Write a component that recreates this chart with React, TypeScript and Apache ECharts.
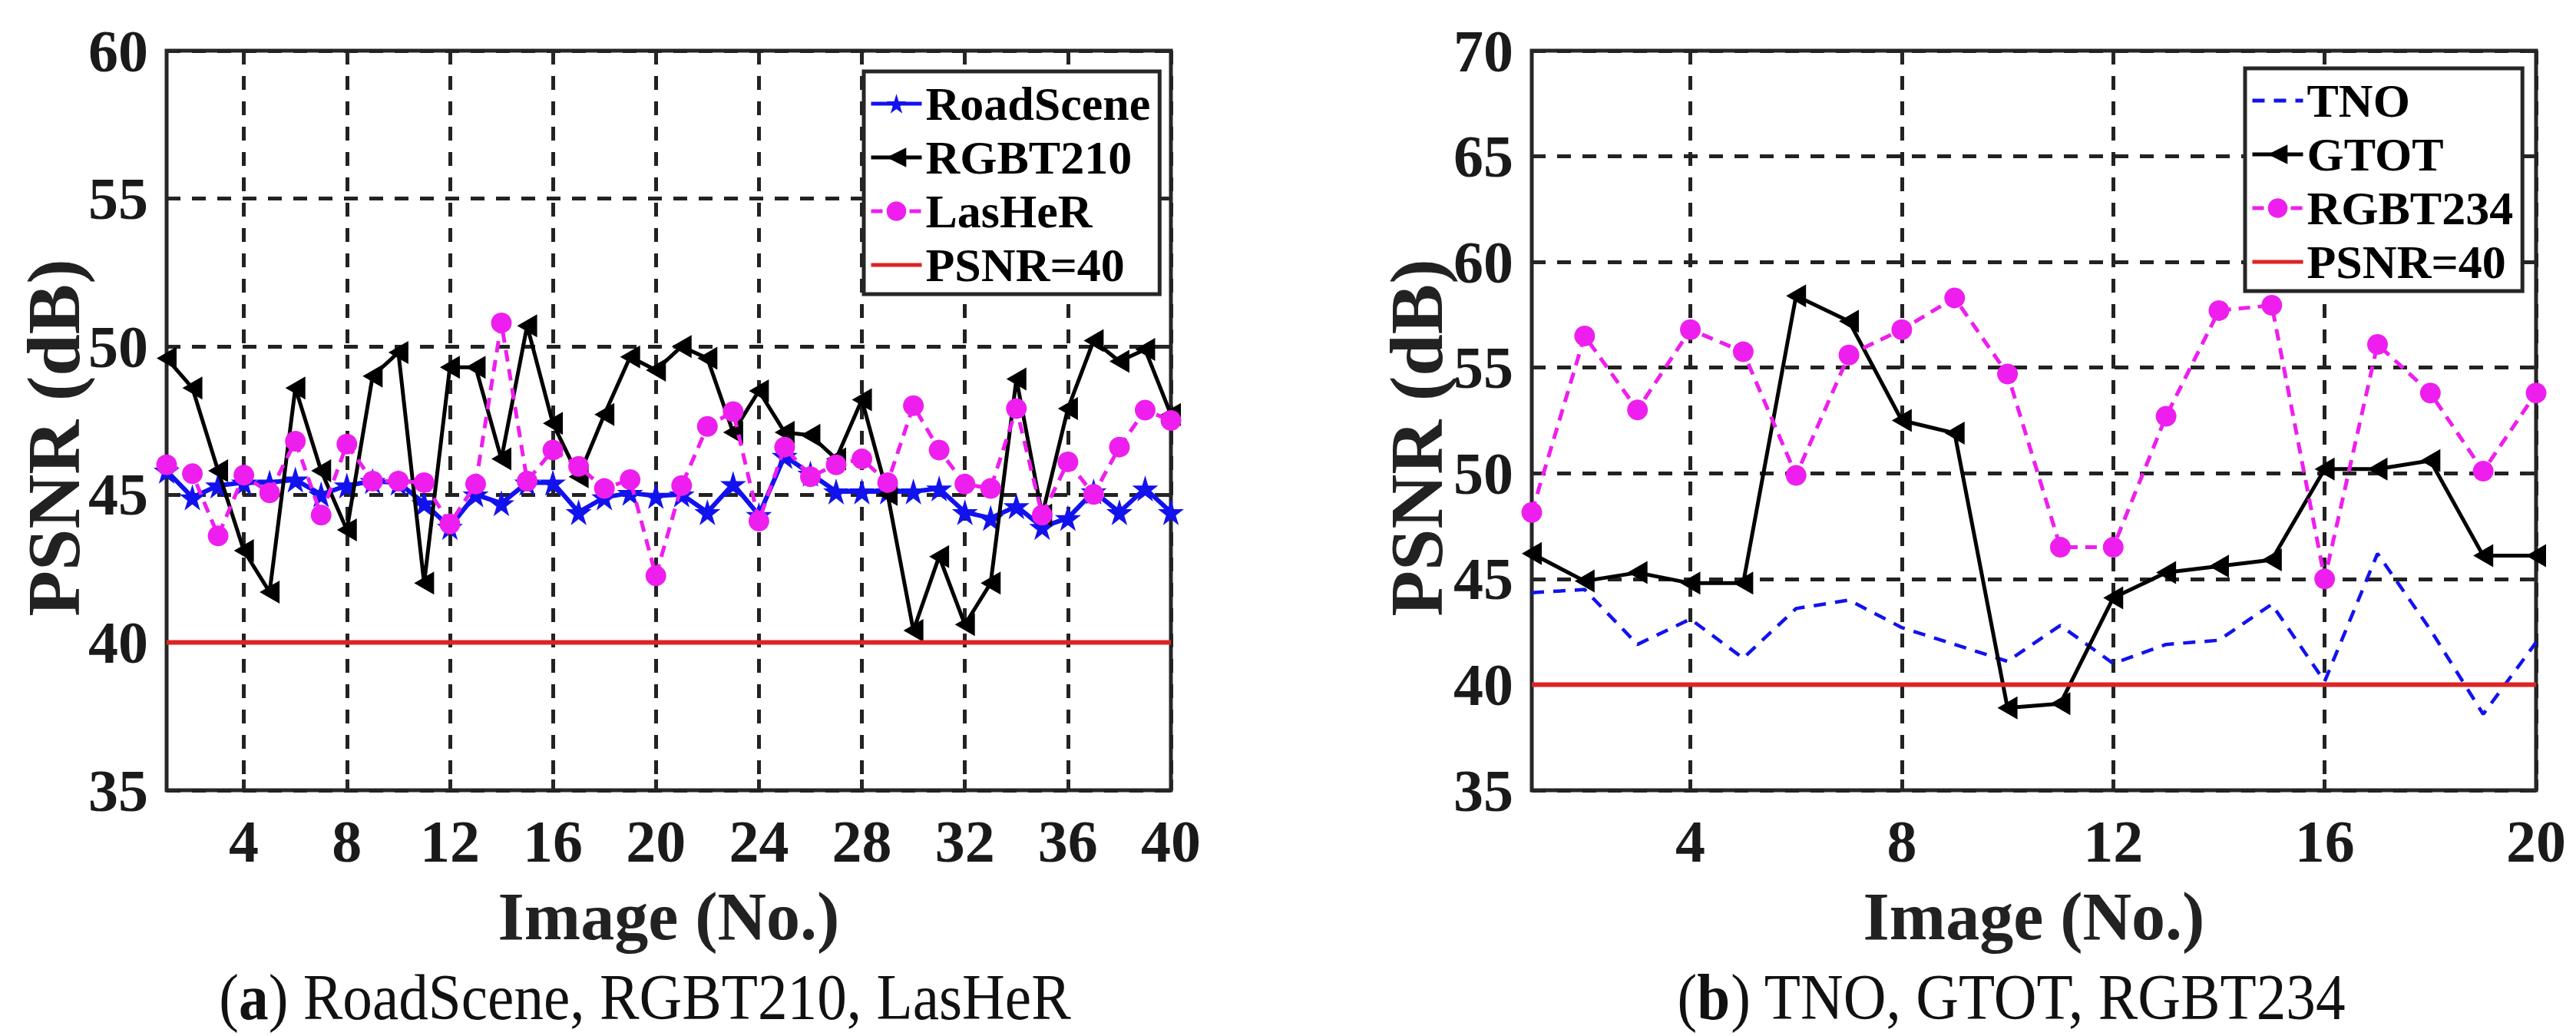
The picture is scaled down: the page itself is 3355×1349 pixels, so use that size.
import React, { useEffect, useRef } from "react";
import * as echarts from "echarts";

// ---------- data ----------
const imagesA = [1,2,3,4,5,6,7,8,9,10,11,12,13,14,15,16,17,18,19,20,21,22,23,24,25,26,27,28,29,30,31,32,33,34,35,36,37,38,39,40];
const roadScene = [45.8,44.9,45.3,45.4,45.4,45.5,45.0,45.3,45.45,45.4,44.7,43.9,45.0,44.7,45.4,45.4,44.4,44.9,45.05,44.95,45.0,44.4,45.35,44.3,46.3,45.7,45.1,45.1,45.1,45.1,45.2,44.4,44.2,44.6,43.9,44.2,45.1,44.4,45.2,44.4];
const rgbt210 = [49.6,48.6,45.8,43.1,41.7,48.6,45.8,43.8,49.0,49.8,42.0,49.3,49.3,46.2,50.7,47.4,45.6,47.7,49.65,49.2,50.0,49.6,47.1,48.5,47.1,47.0,46.2,48.2,45.0,40.4,42.9,40.6,42.0,48.9,44.3,47.9,50.2,49.5,49.9,47.7];
const lasHeR = [46.0,45.7,43.6,45.65,45.05,46.8,44.3,46.7,45.45,45.45,45.4,44.0,45.35,50.8,45.45,46.5,45.95,45.2,45.5,42.25,45.3,47.3,47.8,44.1,46.6,45.6,46.0,46.2,45.4,48.0,46.5,45.35,45.2,47.9,44.3,46.1,45.0,46.6,47.85,47.5];

const imagesB = [1,2,3,4,5,6,7,8,9,10,11,12,13,14,15,16,17,18,19,20];
const tno = [44.35,44.5,41.9,43.1,41.25,43.6,44.0,42.7,41.9,41.1,42.8,41.0,41.9,42.1,43.8,40.15,46.2,42.6,38.6,42.0];
const gtot = [46.2,44.9,45.3,44.8,44.8,58.4,57.2,52.5,51.9,38.9,39.1,44.1,45.3,45.6,45.9,50.2,50.2,50.6,46.1,46.1];
const rgbt234 = [48.15,56.5,53.0,56.8,55.75,49.9,55.6,56.8,58.3,54.7,46.5,46.5,52.7,57.7,57.95,45.0,56.1,53.8,50.1,53.8];

const thresholdValue = 40;
const xTicksA = [4,8,12,16,20,24,28,32,36,40];
const xTicksB = [4,8,12,16,20];
const xRangeA = [1, 40];
const xRangeB = [1, 20];
const yRangeA = [35, 60];
const yRangeB = [35, 70];
const yStep = 5;

const legendNamesA = ["RoadScene", "RGBT210", "LasHeR", "PSNR=40"];
const legendNamesB = ["TNO", "GTOT", "RGBT234", "PSNR=40"];
const captionA = "({b|a}) RoadScene, RGBT210, LasHeR";
const captionB = "({b|b}) TNO, GTOT, RGBT234";
const xTitle = "Image (No.)";
const yTitle = "PSNR (dB)";

// ---------- styles ----------
const FONT = "Liberation Serif";
const BLUE = "#1212ee";
const BLACK = "#000000";
const MAGENTA = "#ee1eee";
const RED = "#dd2424";
const FRAME = "#262626";
const GRID = "#222222";

const STAR = "path://M50,0 L61,35 L98,35 L68,57 L79,91 L50,70 L21,91 L32,57 L2,35 L39,35 Z";
const LTRI = "path://M0,50 L100,0 L100,100 Z";

const pairs = (xs: number[], ys: number[]) => xs.map((x, i) => [x, ys[i]]);

function xAxisPair(gridIndex: number, range: number[], ticks: number[]) {
  const tickStyle = { color: FRAME, width: 5 };
  return [
    {
      type: "value", gridIndex, position: "bottom", min: range[0], max: range[1],
      axisLine: { show: false },
      axisTick: { show: true, inside: true, length: 14, customValues: ticks, lineStyle: tickStyle },
      axisLabel: {
        show: true, customValues: ticks, margin: 27, color: "#1a1a1a",
        fontFamily: FONT, fontWeight: "bold", fontSize: 78, lineHeight: 78, verticalAlign: "top",
      },
      splitLine: { show: true, lineStyle: { color: GRID, width: 5, type: [18, 15] } },
    },
    {
      type: "value", gridIndex, position: "top", min: range[0], max: range[1],
      axisLine: { show: false },
      axisTick: { show: true, inside: true, length: 14, customValues: ticks, lineStyle: tickStyle },
      axisLabel: { show: false },
      splitLine: { show: false },
    },
  ];
}

function yAxisPair(gridIndex: number, range: number[]) {
  const tickStyle = { color: FRAME, width: 5 };
  return [
    {
      type: "value", gridIndex, position: "left", min: range[0], max: range[1], interval: yStep,
      axisLine: { show: false },
      axisTick: { show: true, inside: true, length: 14, lineStyle: tickStyle },
      axisLabel: {
        show: true, margin: 24, color: "#1a1a1a",
        fontFamily: FONT, fontWeight: "bold", fontSize: 78,
      },
      splitLine: { show: true, lineStyle: { color: GRID, width: 5, type: [18, 15] } },
    },
    {
      type: "value", gridIndex, position: "right", min: range[0], max: range[1], interval: yStep,
      axisLine: { show: false },
      axisTick: { show: true, inside: true, length: 14, lineStyle: tickStyle },
      axisLabel: { show: false },
      splitLine: { show: false },
    },
  ];
}

function legendFor(names: string[], left: number, top: number, hideIcon: string[]) {
  return {
    show: true,
    orient: "vertical",
    left, top,
    selectedMode: false,
    backgroundColor: "#ffffff",
    borderColor: FRAME,
    borderWidth: 5,
    borderRadius: 0,
    padding: [7, 12, 3, 7],
    itemGap: 0,
    itemWidth: 66,
    itemHeight: 32,
    lineStyle: { width: 5 },
    data: names.map((n) => (hideIcon.indexOf(n) >= 0 ? { name: n, itemStyle: { opacity: 0 } } : { name: n })),
    textStyle: { color: "#000", fontFamily: FONT, fontWeight: "bold", fontSize: 62, lineHeight: 70 },
    z: 20,
  };
}

export default function App() {
  const ref = useRef<HTMLDivElement>(null);

  useEffect(() => {
    document.body.style.margin = "0";
    if (!ref.current) return;
    const chart = echarts.init(ref.current, null, { renderer: "svg" });

    const gridCommon = {
      show: true, borderColor: FRAME, borderWidth: 5, backgroundColor: "#ffffff",
      containLabel: false, outerBoundsMode: "none",
    };

    const option: any = {
      animation: false,
      backgroundColor: "#ffffff",
      grid: [
        { ...gridCommon, left: 217, top: 66, width: 1308, height: 963 },
        { ...gridCommon, left: 1995, top: 66, width: 1308, height: 963 },
      ],
      xAxis: [...xAxisPair(0, xRangeA, xTicksA), ...xAxisPair(1, xRangeB, xTicksB)],
      yAxis: [...yAxisPair(0, yRangeA), ...yAxisPair(1, yRangeB)],
      legend: [
        legendFor(legendNamesA, 1125, 93, ["PSNR=40"]),
        legendFor(legendNamesB, 2924, 89, ["TNO", "PSNR=40"]),
      ],
      series: [
        {
          name: "RoadScene", type: "line", xAxisIndex: 0, yAxisIndex: 0,
          data: pairs(imagesA, roadScene),
          symbol: STAR, symbolSize: 34, showSymbol: true,
          lineStyle: { color: BLUE, width: 6 }, itemStyle: { color: BLUE },
          z: 3,
        },
        {
          name: "RGBT210", type: "line", xAxisIndex: 0, yAxisIndex: 0,
          data: pairs(imagesA, rgbt210),
          symbol: LTRI, symbolSize: [26, 30], showSymbol: true,
          lineStyle: { color: BLACK, width: 5 }, itemStyle: { color: BLACK },
          z: 4,
        },
        {
          name: "LasHeR", type: "line", xAxisIndex: 0, yAxisIndex: 0,
          data: pairs(imagesA, lasHeR),
          symbol: "circle", symbolSize: 27, showSymbol: true,
          lineStyle: { color: MAGENTA, width: 5, type: [15, 10] }, itemStyle: { color: MAGENTA },
          z: 5,
        },
        {
          name: "PSNR=40", type: "line", xAxisIndex: 0, yAxisIndex: 0,
          data: [[xRangeA[0], thresholdValue], [xRangeA[1], thresholdValue]],
          symbol: "none", showSymbol: false,
          lineStyle: { color: RED, width: 6 }, itemStyle: { color: RED },
          z: 6,
        },
        {
          name: "TNO", type: "line", xAxisIndex: 2, yAxisIndex: 2,
          data: pairs(imagesB, tno),
          symbol: "none", showSymbol: false,
          lineStyle: { color: BLUE, width: 4.5, type: [16, 12] }, itemStyle: { color: BLUE },
          z: 3,
        },
        {
          name: "GTOT", type: "line", xAxisIndex: 2, yAxisIndex: 2,
          data: pairs(imagesB, gtot),
          symbol: LTRI, symbolSize: [26, 30], showSymbol: true,
          lineStyle: { color: BLACK, width: 5 }, itemStyle: { color: BLACK },
          z: 4,
        },
        {
          name: "RGBT234", type: "line", xAxisIndex: 2, yAxisIndex: 2,
          data: pairs(imagesB, rgbt234),
          symbol: "circle", symbolSize: 27, showSymbol: true,
          lineStyle: { color: MAGENTA, width: 5, type: [15, 10] }, itemStyle: { color: MAGENTA },
          z: 5,
        },
        {
          name: "PSNR=40", type: "line", xAxisIndex: 2, yAxisIndex: 2,
          data: [[xRangeB[0], thresholdValue], [xRangeB[1], thresholdValue]],
          symbol: "none", showSymbol: false,
          lineStyle: { color: RED, width: 6 }, itemStyle: { color: RED },
          z: 6,
        },
      ],
      graphic: [
        {
          type: "text", x: 871, y: 1193, silent: true,
          style: { text: xTitle, fontFamily: FONT, fontWeight: "bold", fontSize: 88, fill: "#222",
            align: "center", verticalAlign: "middle", textAlign: "center", textVerticalAlign: "middle" },
        },
        {
          type: "text", x: 2649, y: 1193, silent: true,
          style: { text: xTitle, fontFamily: FONT, fontWeight: "bold", fontSize: 88, fill: "#222",
            align: "center", verticalAlign: "middle", textAlign: "center", textVerticalAlign: "middle" },
        },
        {
          type: "text", x: 70, y: 570, rotation: Math.PI / 2, silent: true,
          style: { text: yTitle, fontFamily: FONT, fontWeight: "bold", fontSize: 98, fill: "#222",
            align: "center", verticalAlign: "middle", textAlign: "center", textVerticalAlign: "middle" },
        },
        {
          type: "text", x: 1845, y: 570, rotation: Math.PI / 2, silent: true,
          style: { text: yTitle, fontFamily: FONT, fontWeight: "bold", fontSize: 98, fill: "#222",
            align: "center", verticalAlign: "middle", textAlign: "center", textVerticalAlign: "middle" },
        },
        {
          type: "text", x: 840, y: 1298, scaleX: 0.92, silent: true,
          style: { text: captionA, fontFamily: FONT, fontSize: 84, fill: "#111",
            align: "center", verticalAlign: "middle", textAlign: "center", textVerticalAlign: "middle",
            rich: { b: { fontFamily: FONT, fontSize: 84, fontWeight: "bold", fill: "#111" } } },
        },
        {
          type: "text", x: 2620, y: 1298, scaleX: 0.92, silent: true,
          style: { text: captionB, fontFamily: FONT, fontSize: 84, fill: "#111",
            align: "center", verticalAlign: "middle", textAlign: "center", textVerticalAlign: "middle",
            rich: { b: { fontFamily: FONT, fontSize: 84, fontWeight: "bold", fill: "#111" } } },
        },
      ],
    };

    chart.setOption(option);
    return () => chart.dispose();
  }, []);

  return (
    <div
      ref={ref}
      style={{ position: "absolute", left: 0, top: 0, width: 3355, height: 1349, background: "#fff" }}
    />
  );
}
